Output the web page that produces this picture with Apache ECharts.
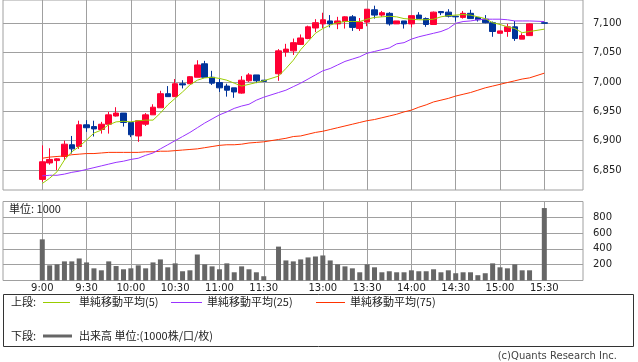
<!DOCTYPE html>
<html>
<head>
<meta charset="utf-8">
<script src="https://cdn.jsdelivr.net/npm/echarts@6/dist/echarts.min.js"></script>
<style>
html,body{margin:0;padding:0;background:#fff;}
#c{width:638px;height:362px;}
</style>
</head>
<body>
<div id="c"></div>
<script>
// ---- data ----
const times = ['9:00','9:05','9:10','9:15','9:20','9:25','9:30','9:35','9:40','9:45','9:50','9:55',
 '10:00','10:05','10:10','10:15','10:20','10:25','10:30','10:35','10:40','10:45','10:50','10:55',
 '11:00','11:05','11:10','11:15','11:20','11:25','11:30','',
 '12:30','12:35','12:40','12:45','12:50','12:55',
 '13:00','13:05','13:10','13:15','13:20','13:25','13:30','13:35','13:40','13:45','13:50','13:55',
 '14:00','14:05','14:10','14:15','14:20','14:25','14:30','14:35','14:40','14:45','14:50','14:55',
 '15:00','15:05','15:10','15:15','15:20','15:25','15:30'];
const timeLabels = ['9:00','9:30','10:00','10:30','11:00','11:30','13:00','13:30','14:00','14:30','15:00','15:30'];
const priceTicks = [6850, 6900, 6950, 7000, 7050, 7100];
const volumeTicks = [200, 400, 600, 800];

const open = [6834,6862,6866,6873,6893,6890,6927,6924,6919,6928,6942,6947,6931,6908,6928,6944,6956,6980,6975,6997,6997,7008,7031,7008,6999,6993,6990,6981,7002,7012,7003,null,
 7014,7051,7053,7064,7074,7092,7099,7104,7099,7103,7111,7091,7102,7123,7114,7117,7099,7104,7099,7114,7108,7098,7120,7119,7112,7110,7117,7110,7107,7101,7083,7086,7094,7073,7079,null,7101];
const close = [6864,6868,6869,6894,6886,6927,6922,6920,6928,6944,6947,6931,6910,6934,6944,6957,6980,6975,6997,6995,7009,7029,7008,6998,6990,6986,6983,7003,7012,7002,7001,null,
 7053,7056,7067,7075,7094,7101,7106,7099,7104,7111,7093,7102,7124,7114,7118,7099,7104,7099,7113,7108,7098,7119,7118,7112,7111,7117,7108,7106,7101,7086,7087,7094,7074,7079,7099,null,7100];
const low = [6830,6859,6850,6867,6878,6886,6915,6907,6912,6912,6941,6924,6906,6898,6925,6944,6956,6975,6975,6989,6997,7008,7008,6995,6983,6975,6973,6980,7000,6998,7000,null,
 7002,7043,7046,7063,7073,7085,7092,7093,7090,7091,7087,7087,7095,7108,7111,7096,7099,7091,7093,7108,7094,7098,7114,7110,7103,7108,7108,7103,7100,7077,7083,7077,7070,7073,7079,null,7099];
const high = [6892,6887,6870,6900,6908,6934,6935,6934,6932,6949,6957,6947,6931,6934,6947,6962,6985,6993,7005,7003,7010,7037,7036,7019,7005,6997,6990,7010,7015,7012,7003,null,
 7056,7065,7074,7081,7096,7107,7118,7114,7111,7112,7114,7109,7124,7130,7121,7119,7104,7104,7113,7119,7110,7120,7121,7124,7112,7121,7123,7110,7114,7103,7087,7099,7104,7083,7100,null,7101];
const volume = [521,192,204,242,242,279,229,154,129,242,183,142,154,192,154,229,267,167,217,117,129,329,204,179,142,217,104,179,142,104,54,null,
 429,254,242,267,292,304,317,254,204,179,154,104,204,167,104,117,104,104,129,117,117,142,104,129,92,104,104,67,92,217,167,154,204,129,129,null,917];
const ma5 = [6827,6836,6847,6867,6881,6890,6901,6913,6918,6927,6932,6933,6932,6934,6935,6935,6947,6961,6972,6983,6995,7003,7007,7008,7006,7003,6998,6993,6996,6999,7002,null,
 7010,7023,7037,7055,7069,7083,7091,7097,7101,7103,7103,7103,7107,7110,7111,7112,7111,7108,7107,7106,7106,7107,7111,7113,7114,7115,7114,7111,7108,7101,7098,7094,7091,7084,7086,null,7090];
const ma25 = [6840,6841,6841,6843,6846,6848,6851,6854,6857,6860,6863,6865,6868,6870,6875,6879,6886,6893,6900,6907,6914,6922,6930,6937,6944,6949,6955,6959,6962,6969,6974,null,
 6982,6986,6992,6998,7005,7012,7019,7023,7029,7035,7039,7043,7049,7052,7055,7058,7065,7067,7073,7077,7080,7083,7086,7091,7100,7103,7104,7106,7107,7107,7107,7106,7104,7104,7104,null,7103];
const ma75 = [6870,6872,6873,6874,6876,6877,6878,6878,6879,6880,6880,6880,6880,6880,6881,6881,6882,6882,6883,6884,6885,6886,6888,6890,6892,6893,6893,6894,6896,6897,6898,null,
 6902,6904,6907,6908,6911,6914,6916,6919,6922,6925,6928,6931,6934,6936,6939,6942,6945,6949,6952,6957,6961,6966,6969,6972,6976,6979,6982,6986,6990,6993,6996,6999,7002,7005,7007,null,7015];

// ---- build series data from arrays ----
const candleData = [], volData = [], ma5Data = [], ma25Data = [], ma75Data = [];
times.forEach((t, i) => {
  if (open[i] != null) candleData.push([i, open[i], close[i], low[i], high[i]]);
  if (volume[i] != null) volData.push([i, volume[i]]);
  if (ma5[i] != null) ma5Data.push([i, ma5[i]]);
  if (ma25[i] != null) ma25Data.push([i, ma25[i]]);
  if (ma75[i] != null) ma75Data.push([i, ma75[i]]);
});
const labelIdx = timeLabels.map(l => times.indexOf(l));

const GRID = '#a0a0a0';
const NUM_FONT = 'DejaVu Sans';
const JP_FONT = '"Noto Sans CJK JP", "DejaVu Sans", sans-serif';
const XMIN = -5.32, XMAX = 73.24;

const chart = echarts.init(document.getElementById('c'), null, {renderer: 'canvas'});

function xAxisCfg(gi, showLabel) {
  return {
    type: 'value', gridIndex: gi, min: XMIN, max: XMAX,
    axisLine: {show: false},
    axisTick: {show: false, customValues: labelIdx},
    splitLine: {show: true, lineStyle: {color: GRID, width: 1}},
    axisLabel: {
      show: showLabel, customValues: labelIdx,
      formatter: v => times[Math.round(v)],
      color: '#222', fontFamily: NUM_FONT, fontSize: 10, margin: 3
    }
  };
}

chart.setOption({
  animation: false,
  grid: [
    {left: 3, top: 0, width: 580, height: 190, show: true, borderColor: GRID, borderWidth: 1, backgroundColor: 'transparent'},
    {left: 3, top: 201.5, width: 580, height: 79, show: true, borderColor: GRID, borderWidth: 1, backgroundColor: 'transparent'}
  ],
  xAxis: [xAxisCfg(0, false), xAxisCfg(1, true)],
  yAxis: [
    {
      type: 'value', gridIndex: 0, position: 'right', min: 6815.9, max: 7139.7, scale: true,
      axisLine: {show: false},
      axisTick: {show: false, customValues: priceTicks},
      splitLine: {show: true, lineStyle: {color: GRID, width: 1}},
      axisLabel: {
        customValues: priceTicks,
        formatter: v => v.toLocaleString('en-US'),
        color: '#222', fontFamily: NUM_FONT, fontSize: 10, margin: 10
      }
    },
    {
      type: 'value', gridIndex: 1, position: 'right', min: 0, max: 1000, interval: 200,
      axisLine: {show: false},
      axisTick: {show: false, customValues: volumeTicks},
      splitLine: {show: true, lineStyle: {color: GRID, width: 1}},
      axisLabel: {
        customValues: volumeTicks,
        color: '#222', fontFamily: NUM_FONT, fontSize: 10, margin: 10
      }
    }
  ],
  series: [
    {
      type: 'candlestick', xAxisIndex: 0, yAxisIndex: 0, data: candleData,
      barWidth: 6, clip: false,
      itemStyle: {color: '#ff0033', color0: '#003399', borderColor: '#ff0033', borderColor0: '#003399', borderWidth: 1}
    },
    {
      type: 'line', xAxisIndex: 0, yAxisIndex: 0, data: ma75Data, showSymbol: false, symbol: 'none',
      lineStyle: {color: '#ff3300', width: 1}, z: 5
    },
    {
      type: 'line', xAxisIndex: 0, yAxisIndex: 0, data: ma25Data, showSymbol: false, symbol: 'none',
      lineStyle: {color: '#9933ff', width: 1}, z: 5
    },
    {
      type: 'line', xAxisIndex: 0, yAxisIndex: 0, data: ma5Data, showSymbol: false, symbol: 'none',
      lineStyle: {color: '#99cc00', width: 1}, z: 5
    },
    {
      type: 'bar', xAxisIndex: 1, yAxisIndex: 1, data: volData, barWidth: 5,
      itemStyle: {color: '#666666'}
    }
  ],
  graphic: [
    {type: 'text', left: 9, top: 203, style: {text: '単位: 1000', font: '11px ' + JP_FONT, fill: '#222'}},
    {type: 'rect', shape: {x: 3.5, y: 294.5, width: 630, height: 52}, style: {fill: 'none', stroke: '#333', lineWidth: 1}},
    {type: 'text', x: 11, y: 302, style: {text: '上段:', font: '11px ' + JP_FONT, fill: '#222', verticalAlign: 'middle'}},
    {type: 'line', shape: {x1: 43, y1: 302.5, x2: 70, y2: 302.5}, style: {stroke: '#99cc00', lineWidth: 1}},
    {type: 'text', x: 79, y: 302, style: {text: '単純移動平均(5)', font: '11px ' + JP_FONT, fill: '#222', verticalAlign: 'middle'}},
    {type: 'line', shape: {x1: 171, y1: 302.5, x2: 202, y2: 302.5}, style: {stroke: '#9933ff', lineWidth: 1}},
    {type: 'text', x: 207, y: 302, style: {text: '単純移動平均(25)', font: '11px ' + JP_FONT, fill: '#222', verticalAlign: 'middle'}},
    {type: 'line', shape: {x1: 316, y1: 302.5, x2: 345, y2: 302.5}, style: {stroke: '#ff3300', lineWidth: 1}},
    {type: 'text', x: 350, y: 302, style: {text: '単純移動平均(75)', font: '11px ' + JP_FONT, fill: '#222', verticalAlign: 'middle'}},
    {type: 'text', x: 11, y: 336, style: {text: '下段:', font: '11px ' + JP_FONT, fill: '#222', verticalAlign: 'middle'}},
    {type: 'line', shape: {x1: 43, y1: 336, x2: 72, y2: 336}, style: {stroke: '#666666', lineWidth: 3}},
    {type: 'text', x: 79, y: 336, style: {text: '出来高 単位:(1000株/口/枚)', font: '11px ' + JP_FONT, fill: '#222', verticalAlign: 'middle'}},
    {type: 'text', x: 617, y: 356, style: {text: '(c)Quants Research Inc.', font: '10px ' + NUM_FONT, fill: '#444', align: 'right', verticalAlign: 'middle'}}
  ]
});
</script>
</body>
</html>
